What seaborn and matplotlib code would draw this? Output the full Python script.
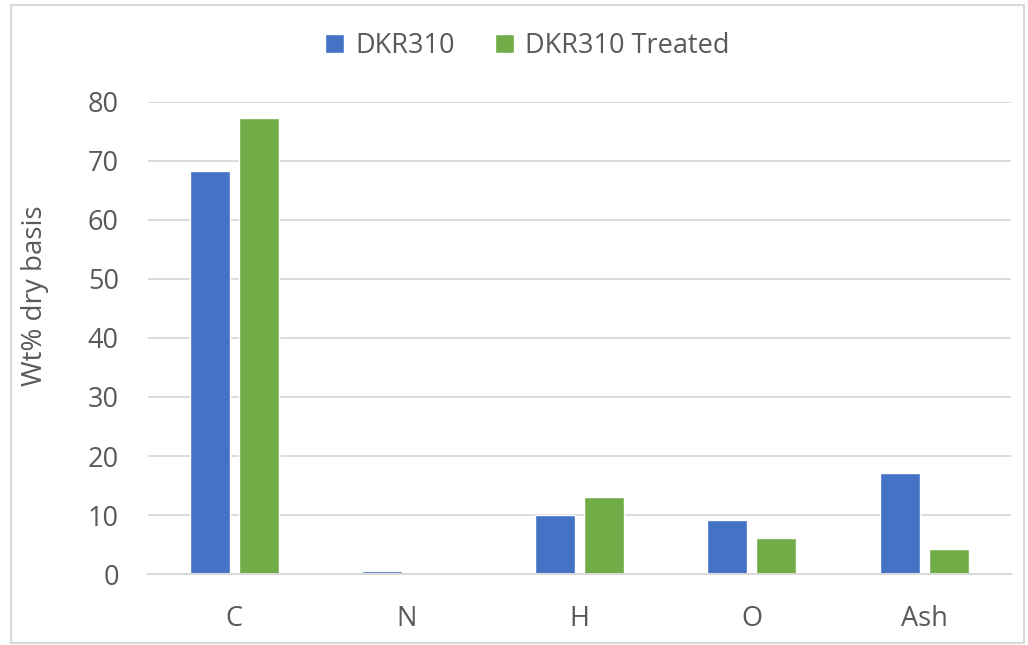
import matplotlib
matplotlib.use("Agg")
import matplotlib.pyplot as plt
import seaborn as sns
import pandas as pd
from matplotlib.patches import Rectangle, Patch

categories = ["C", "N", "H", "O", "Ash"]
series_names = ["DKR310", "DKR310 Treated"]
dkr310 = [68.3, 0.5, 10.0, 9.1, 17.2]
dkr310_treated = [77.3, 0.0, 13.0, 6.1, 4.2]
y_ticks = [0, 10, 20, 30, 40, 50, 60, 70, 80]

df = pd.DataFrame({
    "Element": categories * 2,
    "Series": [series_names[0]] * len(categories) + [series_names[1]] * len(categories),
    "Value": dkr310 + dkr310_treated,
})

sns.set_theme(style="white")
plt.rcParams["font.family"] = ["Open Sans", "DejaVu Sans"]
text_color = "#595959"

fig = plt.figure(figsize=(10.28, 6.45), dpi=100)
ax = fig.add_axes([0.144, 0.110, 0.839, 0.732])

palette = {series_names[0]: "#4472C4", series_names[1]: "#70AD47"}
sns.barplot(data=df, x="Element", y="Value", hue="Series", palette=palette,
            width=0.57, gap=0.19, ax=ax, saturation=1, legend=False)

ax.set_ylim(0, 80)
ax.set_xlim(-0.5, 4.5)
ax.set_yticks(y_ticks)
ax.yaxis.grid(True, color="#d9d9d9", linewidth=1.3)
ax.set_axisbelow(True)
for s in ["top", "right", "left"]:
    ax.spines[s].set_visible(False)
ax.spines["bottom"].set_color("#d9d9d9")
ax.spines["bottom"].set_linewidth(1.5)
ax.tick_params(axis="both", length=0, labelsize=19.5, colors=text_color)
ax.tick_params(axis="y", pad=21)
ax.tick_params(axis="x", pad=22)
ax.set_xlabel("")
ax.set_ylabel("Wt% dry basis", fontsize=20, color=text_color)
ax.yaxis.set_label_coords(-0.115, 0.589)

handles = [Patch(facecolor=palette[n], label=n) for n in series_names]
leg = fig.legend(handles=handles, loc="center", bbox_to_anchor=(0.513, 0.928),
                 ncol=2, frameon=False, fontsize=19.5, handlelength=0.7,
                 handleheight=0.7, handletextpad=0.4, columnspacing=1.5)
for t in leg.get_texts():
    t.set_color(text_color)

border = Rectangle((0.011, 0.003), 0.985, 0.99, transform=fig.transFigure,
                   fill=False, edgecolor="#d9d9d9", linewidth=1.5)
fig.patches.append(border)

fig.savefig("out.png", dpi=100)
